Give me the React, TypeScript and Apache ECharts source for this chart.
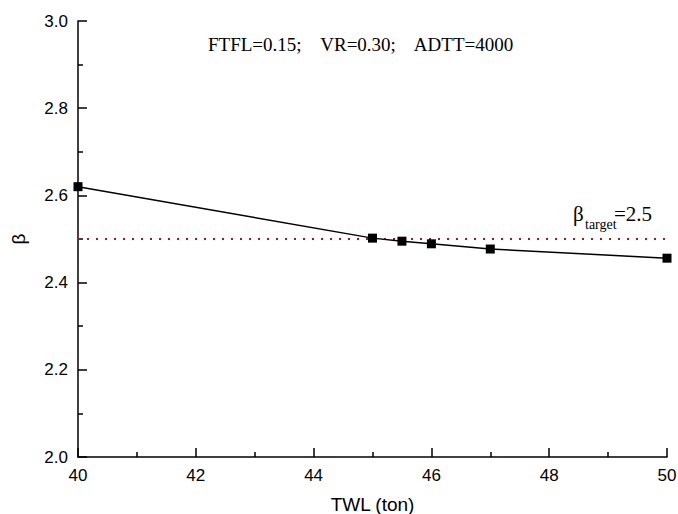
import React, { useEffect, useRef } from "react";
import * as echarts from "echarts";

const twl = [40, 45, 45.5, 46, 47, 50];
const beta = [2.62, 2.502, 2.495, 2.489, 2.477, 2.456];
const targetX = [40, 50];
const targetY = [2.5, 2.5];
const titleText = "FTFL=0.15;    VR=0.30;    ADTT=4000";

export default function App() {
  const ref = useRef<HTMLDivElement>(null);
  useEffect(() => {
    const chart = echarts.init(ref.current!, null, { renderer: "svg" });
    const sans = "Liberation Sans, Arial, sans-serif";
    const serif = "Liberation Serif, Times New Roman, serif";
    chart.setOption({
      animation: false,
      backgroundColor: "#fff",
      grid: { left: 78, right: 11, top: 21, bottom: 57, containLabel: false, outerBoundsMode: "none" },
      xAxis: {
        type: "value",
        min: 40,
        max: 50,
        interval: 2,
        name: "TWL (ton)",
        nameLocation: "middle",
        nameGap: 38,
        nameTextStyle: { fontFamily: sans, fontSize: 19, color: "#000" },
        axisLine: { lineStyle: { color: "#000", width: 1.5 } },
        axisTick: { inside: true, length: 9, lineStyle: { color: "#000", width: 1.5 } },
        minorTick: { show: true, splitNumber: 2, length: 5, lineStyle: { color: "#000", width: 1.5 } },
        axisLabel: { fontFamily: sans, fontSize: 17, color: "#000", margin: 10 },
        splitLine: { show: false },
      },
      yAxis: {
        type: "value",
        min: 2.0,
        max: 3.0,
        interval: 0.2,
        name: "β",
        nameLocation: "middle",
        nameGap: 50,
        nameTextStyle: { fontFamily: sans, fontSize: 19, color: "#000" },
        axisLine: { show: true, lineStyle: { color: "#000", width: 1.5 } },
        axisTick: { show: true, inside: true, length: 9, lineStyle: { color: "#000", width: 1.5 } },
        minorTick: { show: true, splitNumber: 2, length: 5, lineStyle: { color: "#000", width: 1.5 } },
        axisLabel: {
          fontFamily: sans,
          fontSize: 17,
          color: "#000",
          margin: 10,
          formatter: (v: number) => v.toFixed(1),
        },
        splitLine: { show: false },
      },
      series: [
        {
          type: "line",
          data: targetX.map((x, i) => [x, targetY[i]]),
          symbol: "none",
          lineStyle: { color: "#9b1c1c", width: 2, type: [2, 7] },
          silent: true,
          z: 1,
        },
        {
          type: "line",
          data: twl.map((x, i) => [x, beta[i]]),
          symbol: "rect",
          symbolSize: 9,
          itemStyle: { color: "#000" },
          lineStyle: { color: "#000", width: 1.5 },
          clip: false,
          z: 2,
        },
      ],
      graphic: [
        {
          type: "text",
          left: 208,
          top: 35,
          style: { text: titleText, font: `19px ${serif}`, fill: "#000" },
        },
        {
          type: "text",
          x: 573,
          y: 203,
          style: { text: "β", font: `21px ${serif}`, fill: "#000" },
        },
        {
          type: "text",
          x: 585,
          y: 217,
          style: { text: "target", font: `14px ${serif}`, fill: "#000" },
        },
        {
          type: "text",
          x: 614,
          y: 203,
          style: { text: "=2.5", font: `21px ${serif}`, fill: "#000" },
        },
      ],
    });
    return () => chart.dispose();
  }, []);
  return <div ref={ref} style={{ width: 678, height: 514, position: "absolute", left: 0, top: 0 }} />;
}
